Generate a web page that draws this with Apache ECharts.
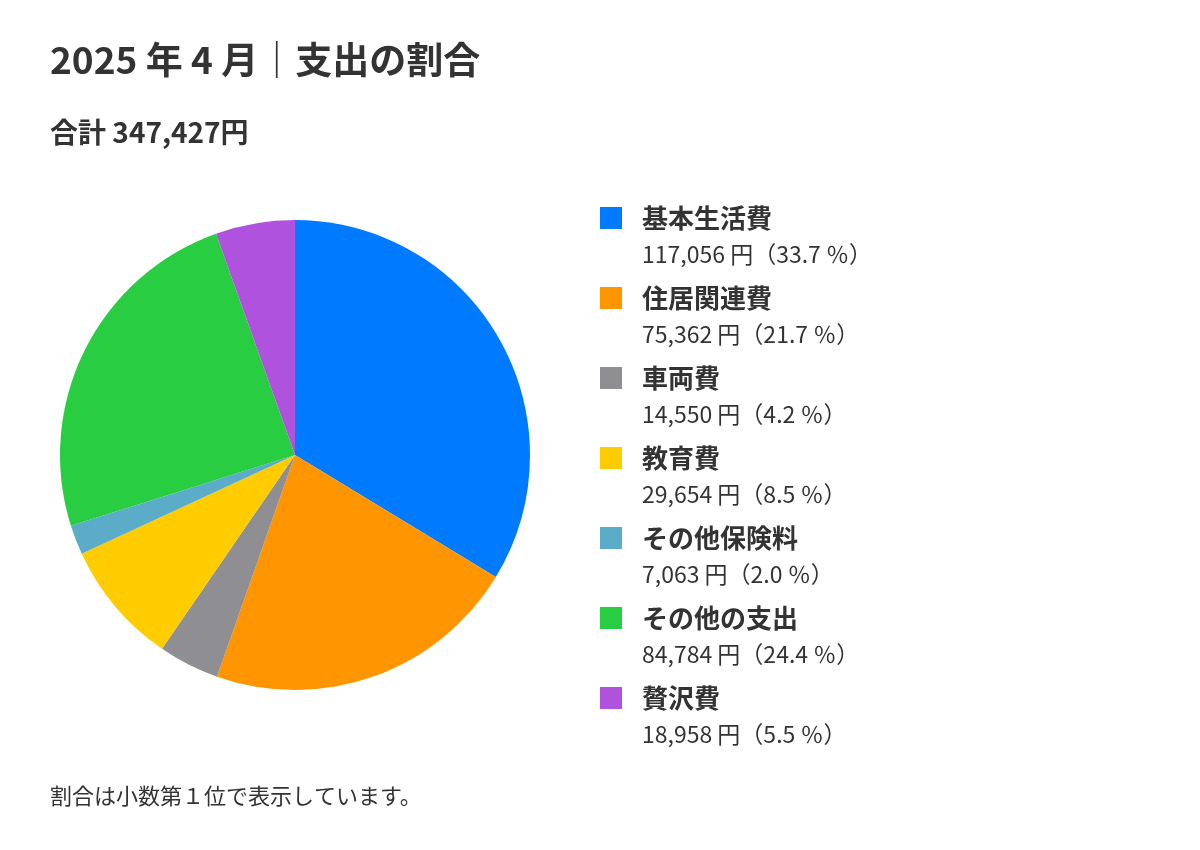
<!DOCTYPE html>
<html><head><meta charset="utf-8">
<script src="https://cdn.jsdelivr.net/npm/echarts@6/dist/echarts.min.js"></script>
<style>html,body{margin:0;padding:0;background:#fff}#c{width:1200px;height:850px}</style>
</head><body><div id="c"></div>
<script>
const categories = ['基本生活費','住居関連費','車両費','教育費','その他保険料','その他の支出','贅沢費'];
const values = [117056, 75362, 14550, 29654, 7063, 84784, 18958];
const percents = ['33.7','21.7','4.2','8.5','2.0','24.4','5.5'];
const colors = ['#007AFF','#FF9500','#8E8E93','#FFCC00','#5AACC8','#28CD41','#AF52DE'];
const total = 347427;
const font = '"Noto Sans CJK JP", "Noto Sans", sans-serif';
const fmt = n => n.toLocaleString('en-US');
const chart = echarts.init(document.getElementById('c'));
chart.setOption({
  animation: false,
  color: colors,
  title: [
    {text: '2025 年 4 月｜支出の割合', left: 45, top: 36, textStyle: {fontFamily: font, fontSize: 37, fontWeight: 'bold', color: '#333'}},
    {text: '合計 ' + fmt(total) + '円', left: 45, top: 113, textStyle: {fontFamily: font, fontSize: 28, fontWeight: 'bold', color: '#333'}},
    {text: '割合は小数第１位で表示しています。', left: 45, top: 780, textStyle: {fontFamily: font, fontSize: 22, fontWeight: 'normal', color: '#333'}}
  ],
  legend: {
    orient: 'vertical', left: 595, top: 195, itemGap: 8,
    itemWidth: 22, itemHeight: 72,
    icon: 'path://M0,0h0.01v0.01h-0.01z M0,7h22v22h-22z M0,71.99h0.01v0.01h-0.01z',
    selectedMode: false,
    data: categories,
    formatter: name => {
      const i = categories.indexOf(name);
      return '{a|' + name + '}\n{b|' + fmt(values[i]) + ' 円（' + percents[i] + ' ％）}';
    },
    textStyle: {
      padding: [0,0,0,15],
      rich: {
        a: {fontFamily: font, fontSize: 26, fontWeight: 'bold', color: '#333', lineHeight: 36},
        b: {fontFamily: font, fontSize: 23, color: '#333', lineHeight: 36}
      }
    }
  },
  series: [{
    type: 'pie', center: [295, 455], radius: 235, startAngle: 90, clockwise: true,
    label: {show: false}, labelLine: {show: false}, silent: true,
    itemStyle: {borderWidth: 0},
    data: categories.map((c, i) => ({name: c, value: values[i]}))
  }]
});
</script></body></html>
